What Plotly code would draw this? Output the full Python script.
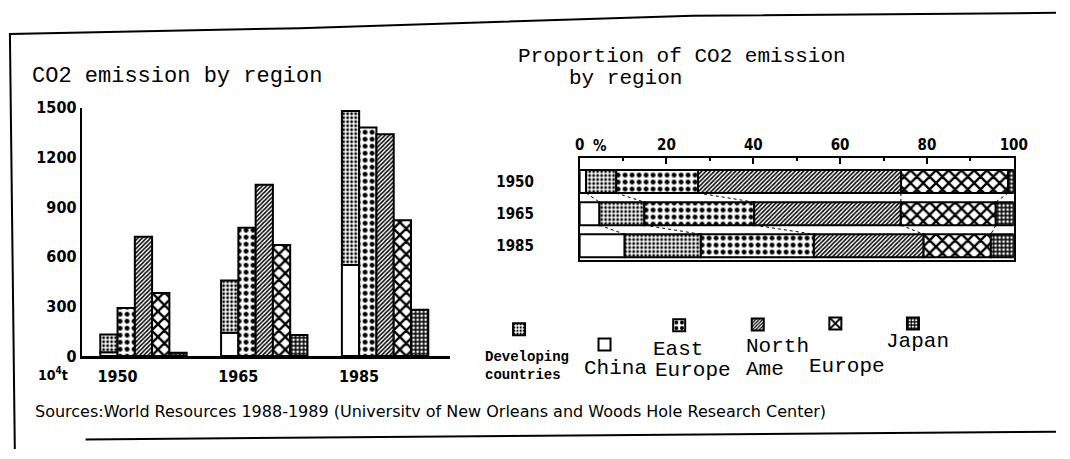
import numpy as np
import plotly.graph_objects as go

# CO2 emissions by region, 10^4 t
years = ["1950", "1965", "1985"]
china = [23, 140, 550]
developing = [107, 317, 930]
east_europe = [290, 775, 1380]
north_america = [720, 1035, 1340]
europe = [380, 670, 820]
japan = [20, 127, 280]

emission_ticks = [0, 300, 600, 900, 1200, 1500]
percent_ticks = [0, 20, 40, 60, 80, 100]

W, H = 1070, 459
INK = "black"
MONO = "Liberation Mono, Courier New, monospace"
NARROW = "DejaVu Sans Condensed, Liberation Sans Narrow, sans-serif"


def px(x):
    return x / W


def py(y):
    return 1 - y / H


# black-and-white fill patterns for each region
patterns = {
    "China": dict(shape=""),
    "Developing countries": dict(shape=".", size=4, solidity=0.4),
    "East Europe": dict(shape=".", size=7, solidity=0.4),
    "North America": dict(shape="/", size=3, solidity=0.5),
    "Europe": dict(shape="x", size=9, solidity=0.45),
    "Japan": dict(shape="+", size=4, solidity=0.62),
}

series = [
    ("China", china),
    ("Developing countries", developing),
    ("East Europe", east_europe),
    ("North America", north_america),
    ("Europe", europe),
    ("Japan", japan),
]


def marker_for(name):
    pat = dict(patterns[name])
    if pat["shape"]:
        pat.update(fgcolor=INK, bgcolor="white", fillmode="replace")
    return dict(color="white", line=dict(color=INK, width=2), pattern=pat)


fig = go.Figure()

# ---- left: grouped bars (developing countries stacked on China) ----
groups = {"China": "g1", "Developing countries": "g1", "East Europe": "g2",
          "North America": "g3", "Europe": "g4", "Japan": "g5"}
for name, vals in series:
    kw = {}
    if name == "Developing countries":
        kw["base"] = china
    fig.add_trace(go.Bar(
        x=years, y=vals, name=name, offsetgroup=groups[name],
        marker=marker_for(name), showlegend=False,
        xaxis="x", yaxis="y", **kw))

# ---- right: 100% stacked horizontal bars ----
mat = np.array([v for _, v in series], dtype=float)
share = mat / mat.sum(axis=0) * 100
cum = np.cumsum(share, axis=0)
rows = np.arange(len(years))
bar_w = 0.716

for i, (name, _) in enumerate(series):
    base = cum[i] - share[i]
    fig.add_trace(go.Bar(
        y=rows, x=share[i], base=base, orientation="h", name=name,
        width=bar_w, offset=-bar_w / 2, marker=marker_for(name),
        xaxis="x2", yaxis="y2",
        legend="legend" if i == 0 else f"legend{i + 1}", showlegend=True))

# dotted connectors between segment boundaries of consecutive years
cx, cy = [], []
for r in range(len(years) - 1):
    for k in range(len(series) - 1):
        cx += [cum[k, r], cum[k, r + 1], None]
        cy += [r + bar_w / 2, r + 1 - bar_w / 2, None]
fig.add_trace(go.Scatter(x=cx, y=cy, mode="lines", xaxis="x2", yaxis="y2",
                         line=dict(color=INK, width=1, dash="dot"),
                         showlegend=False, hoverinfo="skip"))

# ---- axes ----
tick_font = dict(family=NARROW, size=16, color=INK, weight="bold")
small_tick_font = dict(family=NARROW, size=15, color=INK, weight="bold")
fig.update_layout(
    width=W, height=H, autosize=False,
    margin=dict(l=0, r=0, t=0, b=0),
    paper_bgcolor="white", plot_bgcolor="white",
    barmode="group", bargap=0.285, bargroupgap=0,
    xaxis=dict(domain=[px(78), px(453)], type="category", range=[-0.512, 2.537],
               showline=True, linecolor=INK, linewidth=3, showgrid=False,
               ticks="", tickfont=tick_font, ticklabelshift=-26,
               ticklabelstandoff=4, fixedrange=True),
    yaxis=dict(domain=[py(362), py(103)], range=[0, 1500], tickvals=emission_ticks,
               showline=True, linecolor=INK, linewidth=2, showgrid=False,
               zeroline=False, ticks="", tickfont=tick_font, fixedrange=True),
    xaxis2=dict(domain=[px(585), px(1027)], range=[0, 100], side="top", anchor="y2",
                tickvals=percent_ticks, ticks="inside", ticklen=7, tickwidth=1.5,
                tickcolor=INK, minor=dict(dtick=10, ticks="inside", ticklen=4,
                                          tickcolor=INK, tickwidth=1.5),
                showline=True, mirror=True, linecolor=INK, linewidth=1.5,
                showgrid=False, zeroline=False, tickfont=small_tick_font,
                fixedrange=True),
    yaxis2=dict(domain=[py(262), py(155)], range=[2.448, -0.746], anchor="x2",
                tickvals=rows.tolist(), ticktext=years, ticks="",
                showline=True, mirror=True, linecolor=INK, linewidth=1.5,
                showgrid=False, zeroline=False, ticklabelstandoff=41,
                tickfont=small_tick_font, fixedrange=True),
)

# ---- legend swatches, one small legend per region ----
swatch_pos = {
    "Developing countries": (523, 334),
    "China": (610, 350),
    "East Europe": (686, 330),
    "North America": (766, 329),
    "Europe": (845, 328),
    "Japan": (924, 328),
}
for i, (name, _) in enumerate(series):
    sx, sy = swatch_pos[name]
    key = "legend" if i == 0 else f"legend{i + 1}"
    fig.update_layout({key: dict(
        x=px(sx - 20), y=py(sy), xanchor="left", yanchor="middle",
        bgcolor="rgba(0,0,0,0)", borderwidth=0, itemclick=False,
        itemdoubleclick=False, itemwidth=30,
        font=dict(size=10, color="rgba(0,0,0,0)"))})

# ---- texts ----
labels = [
    ("Developing", 487, 363, MONO, 14, "bold"),
    ("countries", 487, 382, MONO, 14, "bold"),
    ("China", 587, 375, MONO, 21, "normal"),
    ("East", 658, 355, MONO, 21, "normal"),
    ("Europe", 660, 377, MONO, 21, "normal"),
    ("North", 752, 352, MONO, 21, "normal"),
    ("Ame", 752, 376, MONO, 21, "normal"),
    ("Europe", 817, 373, MONO, 21, "normal"),
    ("Japan", 895, 347, MONO, 21, "normal"),
    ("CO2 emission by region", 25, 70, MONO, 22, "normal"),
    ("Proportion of CO2 emission", 520, 50, MONO, 21, "normal"),
    ("by region", 572, 72, MONO, 21, "normal"),
    ("10<sup>4</sup>t", 32, 381, NARROW, 14, "bold"),
    ("%", 597, 143, NARROW, 15, "bold"),
    ("Sources:World Resources 1988-1989 (Universitv of New Orleans and Woods Hole Research Center)",
     28, 420, "DejaVu Sans, sans-serif", 16, "normal"),
]
for text, x, y, fam, size, weight in labels:
    fig.add_annotation(text=text, x=px(x), y=py(y), xref="paper", yref="paper",
                       xanchor="left", yanchor="middle", showarrow=False,
                       font=dict(family=fam, size=size, color=INK, weight=weight))

# ---- outer frame ----
def path(points):
    return "M" + " L".join(f"{px(x)},{py(y)}" for x, y in points)

frame_style = dict(type="path", xref="paper", yref="paper",
                   line=dict(color=INK, width=2), layer="above")
fig.add_shape(path=path([(10, 459), (5, 26), (300, 20), (700, 7), (1070, 4)]), **frame_style)
fig.add_shape(path=path([(82, 449), (1070, 441)]), **frame_style)

fig.write_html("out.html")
